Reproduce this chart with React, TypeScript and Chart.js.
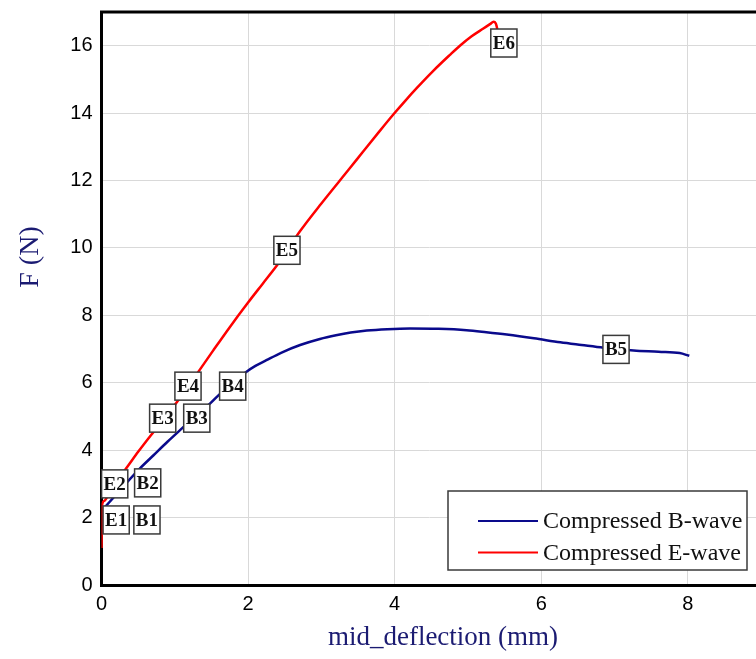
import React, { useEffect, useRef } from "react";
import { Chart, registerables } from "chart.js";

Chart.register(...registerables);

// Compressed B-wave: mid deflection (mm) vs F (N)
const bX = [0.05, 0.2, 0.35, 0.525, 0.71, 0.9, 1.12, 1.3, 1.48, 1.62, 1.8, 1.96, 2.1, 2.25, 2.45, 2.71, 2.98, 3.2, 3.4, 3.62, 3.9, 4.21, 4.6, 4.98, 5.25, 5.53, 5.9, 6.26, 6.55, 6.85, 7.26, 7.6, 7.89, 8.02];
const bY = [2.32, 2.68, 3.05, 3.46, 3.85, 4.25, 4.69, 5.05, 5.38, 5.68, 6.02, 6.3, 6.5, 6.67, 6.89, 7.12, 7.3, 7.41, 7.49, 7.55, 7.59, 7.61, 7.6, 7.56, 7.5, 7.43, 7.32, 7.2, 7.12, 7.04, 6.96, 6.92, 6.88, 6.8];

// Compressed E-wave
const eX = [0.0, 0.005, 0.01, 0.04, 0.15, 0.32, 0.5, 0.71, 0.87, 1.03, 1.18, 1.32, 1.525, 1.75, 2.0, 2.2, 2.41, 2.71, 3.0, 3.39, 3.57, 3.8, 3.99, 4.15, 4.3, 4.52, 4.75, 4.89, 5.05, 5.21, 5.3, 5.35, 5.38, 5.39, 5.4];
const eY = [1.1, 2.0, 2.4, 2.5, 2.95, 3.41, 3.95, 4.54, 4.98, 5.43, 5.88, 6.32, 6.96, 7.65, 8.38, 8.94, 9.53, 10.5, 11.32, 12.37, 12.86, 13.48, 13.98, 14.38, 14.74, 15.24, 15.72, 16.0, 16.28, 16.51, 16.64, 16.71, 16.66, 16.59, 16.49];

// Point annotations
const markText = ["E1", "B1", "E2", "B2", "E3", "B3", "E4", "B4", "E5", "E6", "B5"];
const markX = [0.2, 0.62, 0.18, 0.63, 0.835, 1.3, 1.18, 1.79, 2.53, 5.49, 7.02];
const markY = [1.93, 1.93, 3.0, 3.03, 4.95, 4.95, 5.9, 5.9, 9.93, 16.08, 6.99];

const seriesNames = ["Compressed B-wave", "Compressed E-wave"];
const xTitle = "mid_deflection (mm)";
const yTitle = "F (N)";

const NAVY_TEXT = "#1b1b72";
const SERIF = "'Liberation Serif', 'Times New Roman', serif";
const SANS = "'Liberation Sans', Arial, sans-serif";

const decorPlugin = {
  id: "decor",
  afterDatasetsDraw(chart: any) {
    const { ctx, chartArea, scales } = chart;
    const xs = scales.x;
    const ys = scales.y;
    ctx.save();
    // top border
    ctx.strokeStyle = "#000";
    ctx.lineWidth = 3;
    ctx.beginPath();
    ctx.moveTo(chartArea.left - 1.5, chartArea.top);
    ctx.lineTo(chartArea.right, chartArea.top);
    ctx.stroke();

    // point labels
    ctx.font = `bold 19px ${SERIF}`;
    ctx.textAlign = "center";
    ctx.textBaseline = "middle";
    for (let i = 0; i < markText.length; i++) {
      const px = xs.getPixelForValue(markX[i]);
      const py = ys.getPixelForValue(markY[i]);
      const w = ctx.measureText(markText[i]).width + 4;
      const h = 28;
      ctx.fillStyle = "#fff";
      ctx.fillRect(px - w / 2, py - h / 2, w, h);
      ctx.strokeStyle = "#3a3a3a";
      ctx.lineWidth = 1.5;
      ctx.strokeRect(px - w / 2, py - h / 2, w, h);
      ctx.fillStyle = "#111";
      ctx.fillText(markText[i], px, py + 1);
    }

    // legend
    const lx = 448, ly = 491, lw = 299, lh = 79;
    ctx.fillStyle = "#fff";
    ctx.fillRect(lx, ly, lw, lh);
    ctx.strokeStyle = "#3a3a3a";
    ctx.lineWidth = 1.5;
    ctx.strokeRect(lx, ly, lw, lh);
    ctx.font = `24px ${SERIF}`;
    ctx.textAlign = "left";
    ctx.textBaseline = "middle";
    chart.data.datasets.forEach((ds: any, i: number) => {
      const cy = 521 + i * 31.6;
      ctx.strokeStyle = ds.borderColor;
      ctx.lineWidth = 2;
      ctx.beginPath();
      ctx.moveTo(478, cy);
      ctx.lineTo(538, cy);
      ctx.stroke();
      ctx.fillStyle = "#111";
      ctx.fillText(ds.label, 543, cy + 1);
    });

    // axis titles
    ctx.fillStyle = NAVY_TEXT;
    ctx.font = `27px ${SERIF}`;
    ctx.textAlign = "center";
    ctx.textBaseline = "middle";
    ctx.fillText(xTitle, 443, 638);
    ctx.save();
    ctx.translate(31, 257);
    ctx.rotate(-Math.PI / 2);
    ctx.font = `28px ${SERIF}`;
    ctx.fillText(yTitle, 0, 0);
    ctx.restore();
    ctx.restore();
  },
};

export default function App() {
  const ref = useRef<HTMLCanvasElement>(null);
  useEffect(() => {
    if (!ref.current) return;
    const chart = new Chart(ref.current, {
      type: "scatter",
      data: {
        datasets: [
          {
            label: seriesNames[0],
            data: bX.map((x, i) => ({ x, y: bY[i] })),
            borderColor: "#0a0a8c",
            backgroundColor: "#0a0a8c",
            borderWidth: 2.5,
            showLine: true,
            pointRadius: 0,
            cubicInterpolationMode: "monotone",
          },
          {
            label: seriesNames[1],
            data: eX.map((x, i) => ({ x, y: eY[i] })),
            borderColor: "#ff0000",
            backgroundColor: "#ff0000",
            borderWidth: 2.5,
            showLine: true,
            pointRadius: 0,
            cubicInterpolationMode: "monotone",
          },
        ],
      },
      options: {
        animation: false,
        responsive: false,
        devicePixelRatio: 1,
        layout: { padding: { top: 12, left: 0, right: 0, bottom: 0 } },
        plugins: { legend: { display: false }, tooltip: { enabled: false } },
        scales: {
          x: {
            type: "linear",
            min: 0,
            max: 8.93,
            afterFit: (s: any) => {
              s.height = 74;
              s.paddingLeft = 0;
              s.paddingRight = 0;
            },
            ticks: {
              stepSize: 2,
              includeBounds: false,
              font: { family: SANS, size: 20 },
              color: "#000",
              padding: 7,
            },
            grid: { color: "#d9d9d9", lineWidth: 1, drawTicks: false },
            border: { display: true, color: "#000", width: 3 },
          },
          y: {
            type: "linear",
            min: 0,
            max: 17,
            afterFit: (s: any) => {
              s.width = 101.5;
              s.paddingTop = 0;
              s.paddingBottom = 0;
            },
            ticks: {
              stepSize: 2,
              includeBounds: false,
              font: { family: SANS, size: 20 },
              color: "#000",
              padding: 9,
            },
            grid: { color: "#d9d9d9", lineWidth: 1, drawTicks: false },
            border: { display: true, color: "#000", width: 3 },
          },
        },
      },
      plugins: [decorPlugin],
    });
    return () => chart.destroy();
  }, []);
  return (
    <div style={{ position: "absolute", left: 0, top: 0, width: 756, height: 659, background: "#fff" }}>
      <canvas ref={ref} width={756} height={659} />
    </div>
  );
}
